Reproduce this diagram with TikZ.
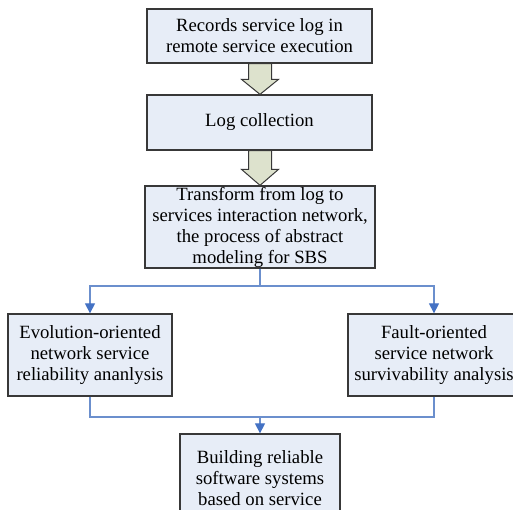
\documentclass[tikz,border=0pt]{standalone}
\usepackage{fontspec}
\setmainfont{Liberation Serif}
\usetikzlibrary{arrows.meta,calc}

\newlength{\du}
\setlength{\du}{1pt}

\definecolor{boxfill}{rgb}{0.906, 0.929, 0.969}
\definecolor{boxline}{rgb}{0.220, 0.220, 0.220}
\definecolor{arrowfill}{rgb}{0.867, 0.886, 0.804}
\definecolor{linkcolor}{rgb}{0.420, 0.561, 0.804}
\definecolor{tipcolor}{rgb}{0.267, 0.447, 0.769}

\tikzset{
  stage/.style={draw=boxline, fill=boxfill, line width=1.3\du, inner sep=0pt,
    align=center, font=\fontsize{18.7}{21}\selectfont},
  blockarrow/.style={draw=boxline, fill=arrowfill, line width=1\du},
  link/.style={draw=linkcolor, line width=1.2\du},
  linkarrow/.style={link, -{Triangle[width=10pt,length=10pt,color=tipcolor]}}
}

\begin{document}
\begin{tikzpicture}
\pgftransformxscale{1.000000}
\pgftransformyscale{-1.000000}
\useasboundingbox (0\du,0\du) rectangle (513\du,509\du);
\clip (0\du,0\du) rectangle (513\du,509\du);

% processing chain
\node[stage, minimum width=225\du, minimum height=54\du] (rec) at (259.5\du,36\du)
  {Records service log in\\remote service execution};
\node[stage, minimum width=225\du, minimum height=55\du] (col) at (259.5\du,122.5\du)
  {Log collection};
\node[stage, minimum width=230\du, minimum height=82\du] (trans) at (260\du,227\du)
  {Transform from log to\\services interaction network,\\the process of abstract\\modeling for SBS};

% the two analyses
\node[stage, minimum width=164\du, minimum height=82\du] (evo) at (90\du,355\du)
  {Evolution-oriented\\network service\\reliability ananlysis};
\node[stage, minimum width=172\du, minimum height=82\du] (fault) at (434\du,355\du)
  {Fault-oriented\\service network\\survivability analysis};

\node[stage, minimum width=160\du, minimum height=88\du] (build) at (260\du,478\du)
  {Building reliable\\software systems\\based on service};

% hollow arrows between the first stages
\draw[blockarrow] ($(rec.south)+(-11\du,0)$) -- ($(col.north)+(-11\du,-15\du)$)
  -- ($(col.north)+(-18\du,-15\du)$) -- ($(col.north)+(0.5\du,0)$)
  -- ($(col.north)+(19\du,-15\du)$) -- ($(col.north)+(12\du,-15\du)$)
  -- ($(rec.south)+(12\du,0)$) -- cycle;
\draw[blockarrow] ($(col.south)+(-11\du,0)$) -- ($(trans.north)+(-11.5\du,-16\du)$)
  -- ($(trans.north)+(-18.5\du,-16\du)$) -- (trans.north)
  -- ($(trans.north)+(18.5\du,-16\du)$) -- ($(trans.north)+(11.5\du,-16\du)$)
  -- ($(col.south)+(12\du,0)$) -- cycle;

% split and merge
\coordinate (split) at (260\du,286\du);
\coordinate (merge) at (260\du,417\du);
\draw[link] (trans.south) -- (split);
\draw[linkarrow] (split) -| (evo.north);
\draw[linkarrow] (split) -| (fault.north);
\draw[link] (evo.south) |- (merge);
\draw[link] (fault.south) |- (merge);
\draw[linkarrow] (merge) -- (build.north);
\end{tikzpicture}
\end{document}
